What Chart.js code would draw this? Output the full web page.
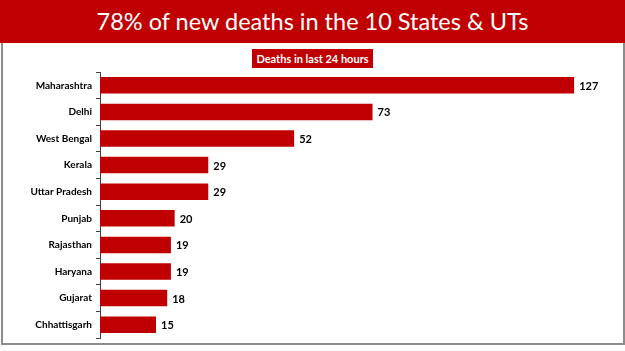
<!DOCTYPE html>
<html>
<head>
<meta charset="utf-8">
<script src="https://cdn.jsdelivr.net/npm/chart.js@4"></script>
<style>
  body { margin: 0; width: 625px; height: 351px; background: #fff; position: relative; overflow: hidden; font-family: Lato, sans-serif; }
  .band { position: absolute; left: 0; top: 0; width: 625px; height: 43px; background: #c00000; color: #fff;
          font-size: 23.5px; line-height: 42px; text-align: center; }
  .panel { position: absolute; left: 1px; top: 43px; width: 620px; height: 300px; border: 2px solid #8c8c8c; border-top: none; }
  .sub { position: absolute; top: 47px; left: 0; width: 625px; text-align: center; }
  .sub span { background: #c00000; color: #fff; font-weight: bold; font-size: 11px; padding: 3px 4px; }
  .wrap { position: absolute; left: 0; top: 62px; width: 625px; height: 286px; }
</style>
</head>
<body>
<div class="band">78% of new deaths in the 10 States &amp; UTs</div>
<div class="panel"></div>
<div class="sub"><span>Deaths in last 24 hours</span></div>
<div class="wrap"><canvas id="deathChart"></canvas></div>
<script>
const states = ['Maharashtra', 'Delhi', 'West Bengal', 'Kerala', 'Uttar Pradesh',
  'Punjab', 'Rajasthan', 'Haryana', 'Gujarat', 'Chhattisgarh'];
const deaths = [127, 73, 52, 29, 29, 20, 19, 19, 18, 15];
const xMax = 135;

// value labels at the end of each bar
const barLabels = {
  id: 'barLabels',
  afterDatasetsDraw(chart) {
    const ctx = chart.ctx;
    const meta = chart.getDatasetMeta(0);
    ctx.save();
    ctx.font = 'bold 11px Lato';
    ctx.fillStyle = '#000';
    ctx.textBaseline = 'middle';
    meta.data.forEach((bar, i) => {
      ctx.fillText(String(deaths[i]), bar.x + 5, bar.y + 1);
    });
    ctx.restore();
  }
};

new Chart(document.getElementById('deathChart'), {
  type: 'bar',
  data: {
    labels: states,
    datasets: [{
      data: deaths,
      backgroundColor: '#c00000',
      borderWidth: 0,
      categoryPercentage: 1,
      barPercentage: 0.62
    }]
  },
  options: {
    indexAxis: 'y',
    responsive: true,
    maintainAspectRatio: false,
    animation: false,
    layout: { padding: { left: 0, right: 21, top: 0, bottom: 0 } },
    scales: {
      x: { display: false, min: 0, max: xMax },
      y: {
        afterFit(scale) { scale.width = 100; },
        border: { display: true, color: '#404040', width: 1 },
        grid: { drawOnChartArea: false, drawTicks: true, tickLength: 4, color: '#404040', offset: true },
        ticks: { color: '#000', padding: 4, font: { family: 'Lato', size: 10, weight: 'bold' } }
      }
    },
    plugins: {
      legend: { display: false },
      tooltip: { enabled: false }
    }
  },
  plugins: [barLabels]
});
</script>
</body>
</html>
